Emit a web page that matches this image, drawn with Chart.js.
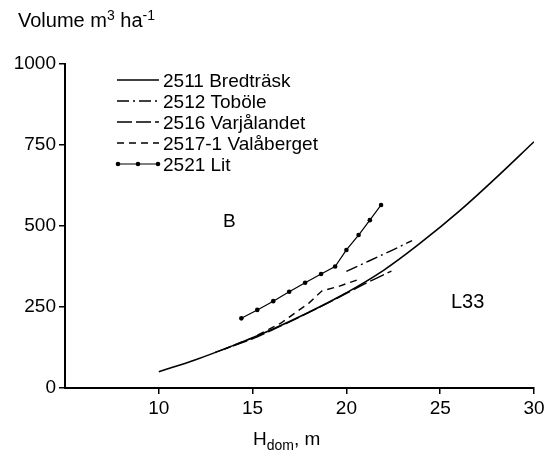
<!DOCTYPE html>
<html>
<head>
<meta charset="utf-8">
<script src="https://cdn.jsdelivr.net/npm/chart.js@4.4.1/dist/chart.umd.min.js"></script>
<style>
  html, body { margin: 0; padding: 0; background: #fff; }
  #wrap { width: 558px; height: 456px; }
</style>
</head>
<body>
<div id="wrap"><canvas id="volChart" width="558" height="456"></canvas></div>
<script>
// dominant height (m) and volume (m3/ha)
const bredH = [10, 12, 14, 16, 18, 20, 22, 24, 26, 28, 30];
const bredV = [50, 88, 132, 180, 234, 294, 364, 450, 545, 650, 760];

const toboH = [20, 21.2, 22.4, 23.5];
const toboV = [360, 392, 424, 455];

const varjH = [13, 15, 17, 19, 21, 22.4];
const varjV = [110, 152, 205, 262, 322, 361];

const valaH = [13.5, 15, 16.5, 18, 18.7, 19.5, 20.7];
const valaV = [120, 155, 200, 262, 300, 312, 336];

const litH = [14.4, 15.25, 16.1, 16.95, 17.8, 18.65, 19.4, 20.0, 20.65, 21.25, 21.85];
const litV = [215, 241, 268, 297, 325, 352, 375, 426, 472, 518, 565];

const xTicks = [5, 10, 15, 20, 25, 30];
const yTicks = [0, 250, 500, 750, 1000];

const FONT = '"Liberation Sans", Arial, sans-serif';

function pts(xs, ys) {
  return xs.map((x, i) => ({ x: x, y: ys[i] }));
}

// text that is not part of the axes: titles, region labels and the legend
const annotate = {
  id: "annotate",
  afterDraw(chart) {
    const c = chart.ctx;
    c.save();
    c.fillStyle = "#000";
    c.textBaseline = "alphabetic";

    function runs(x, y, parts) {
      parts.forEach((p) => {
        c.font = p[1] + "px " + FONT;
        c.fillText(p[0], x, y + (p[2] || 0));
        x += c.measureText(p[0]).width;
      });
    }

    runs(18, 27, [["Volume m", 20], ["3", 14, -7], [" ha", 20], ["-1", 14, -7]]);
    runs(253, 445, [["H", 19], ["dom", 14, 5], [", m", 19]]);

    c.font = "19px " + FONT;
    c.fillText("B", 223, 227);
    c.font = "20px " + FONT;
    c.fillText("L33", 451, 308);

    // legend
    chart.data.datasets.forEach((ds, i) => {
      const y = 80 + i * 21;
      c.strokeStyle = "#000";
      c.lineWidth = ds.borderWidth;
      c.setLineDash(ds.borderDash || []);
      c.beginPath();
      c.moveTo(117, y);
      c.lineTo(159, y);
      c.stroke();
      c.setLineDash([]);
      if (ds.pointRadius) {
        [118, 138, 158].forEach((px) => {
          c.beginPath();
          c.arc(px, y, ds.pointRadius, 0, Math.PI * 2);
          c.fill();
        });
      }
      c.font = "19px " + FONT;
      c.fillText(ds.label, 163, y + 7);
    });
    c.restore();
  },
};

const ctx = document.getElementById("volChart").getContext("2d");

new Chart(ctx, {
  type: "line",
  data: {
    datasets: [
      {
        label: "2511 Bredträsk",
        data: pts(bredH, bredV),
        borderColor: "#000",
        borderWidth: 1.6,
        pointRadius: 0,
        tension: 0.4,
      },
      {
        label: "2512 Toböle",
        data: pts(toboH, toboV),
        borderColor: "#000",
        borderWidth: 1.4,
        borderDash: [12, 4, 2, 4],
        pointRadius: 0,
      },
      {
        label: "2516 Varjålandet",
        data: pts(varjH, varjV),
        borderColor: "#000",
        borderWidth: 1.4,
        borderDash: [15, 4],
        pointRadius: 0,
        tension: 0.2,
      },
      {
        label: "2517-1 Valåberget",
        data: pts(valaH, valaV),
        borderColor: "#000",
        borderWidth: 1.4,
        borderDash: [7, 5],
        pointRadius: 0,
      },
      {
        label: "2521 Lit",
        data: pts(litH, litV),
        borderColor: "#000",
        backgroundColor: "#000",
        borderWidth: 1.2,
        pointRadius: 2.3,
        pointBackgroundColor: "#000",
        pointBorderWidth: 0,
      },
    ],
  },
  options: {
    responsive: false,
    animation: false,
    layout: { padding: { left: 0, right: 24, top: 64, bottom: 0 } },
    plugins: {
      legend: { display: false },
      tooltip: { enabled: false },
    },
    scales: {
      x: {
        type: "linear",
        min: xTicks[0],
        max: xTicks[xTicks.length - 1],
        afterBuildTicks: (s) => {
          s.ticks = xTicks.map((v) => ({ value: v }));
        },
        ticks: {
          color: "#000",
          font: { family: FONT, size: 19 },
          padding: 3,
          maxRotation: 0,
          callback: (v) => (v === 5 ? "" : String(v)),
        },
        grid: {
          drawOnChartArea: false,
          drawTicks: true,
          tickLength: 6,
          lineWidth: 1.5,
          color: (c) => (c.tick && c.tick.value === 5 ? "rgba(0,0,0,0)" : "#000"),
        },
        border: { color: "#000", width: 2 },
        afterFit: (s) => {
          s.height = 68;
        },
      },
      y: {
        type: "linear",
        min: yTicks[0],
        max: yTicks[yTicks.length - 1],
        afterBuildTicks: (s) => {
          s.ticks = yTicks.map((v) => ({ value: v }));
        },
        ticks: {
          color: "#000",
          font: { family: FONT, size: 19 },
          padding: 3,
          callback: (v) => String(v),
        },
        grid: {
          drawOnChartArea: false,
          drawTicks: true,
          tickLength: 6,
          lineWidth: 1.5,
          color: "#000",
        },
        border: { color: "#000", width: 2 },
        afterFit: (s) => {
          s.width = 65;
        },
      },
    },
  },
  plugins: [annotate],
});
</script>
</body>
</html>
